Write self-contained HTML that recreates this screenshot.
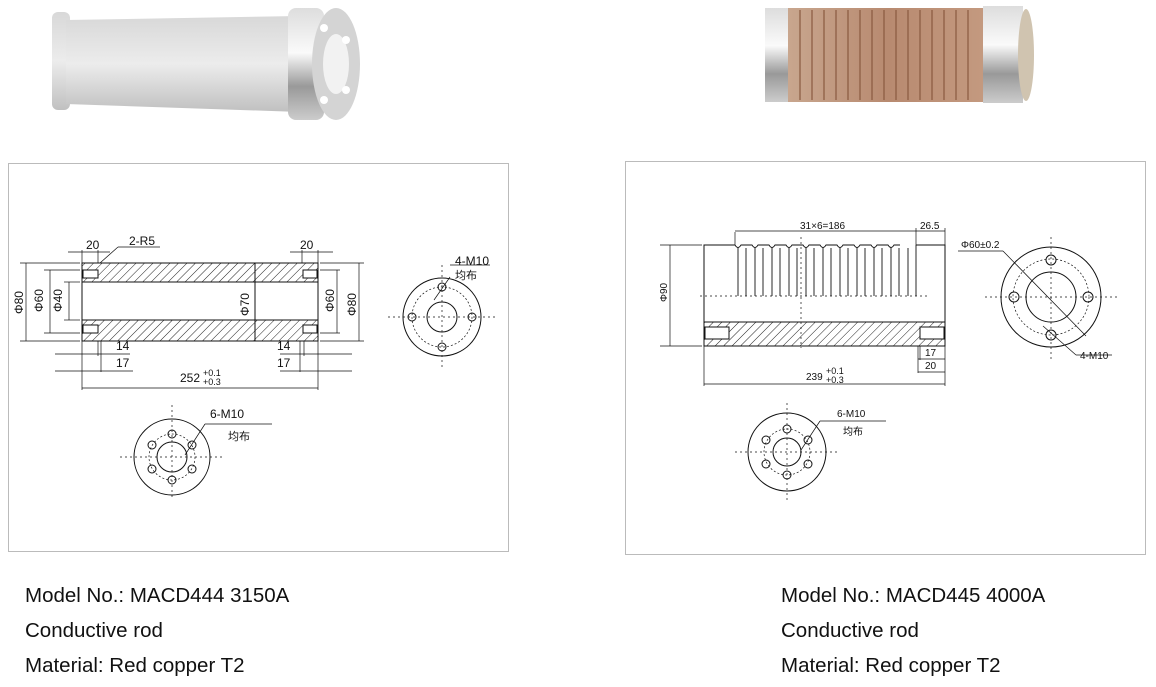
<!DOCTYPE html>
<html><head><meta charset="utf-8"><style>
html,body{margin:0;padding:0;background:#fff;width:1156px;height:687px;overflow:hidden}
svg{position:absolute;left:0;top:0}
.t{position:absolute;left:25px;font-family:"Liberation Sans",Arial,sans-serif;font-size:20.5px;color:#111}
</style></head><body>
<svg width="1156" height="687" viewBox="0 0 1156 687" font-family="Liberation Sans, Noto Sans CJK SC, sans-serif">
<defs>
<pattern id="h" width="6" height="6" patternUnits="userSpaceOnUse" patternTransform="rotate(45)"><line x1="0" y1="0" x2="0" y2="6" stroke="#222" stroke-width="1"/></pattern>
<linearGradient id="al" x1="0" y1="0" x2="0" y2="1"><stop offset="0" stop-color="#d8d8d8"/><stop offset="0.5" stop-color="#ececec"/><stop offset="1" stop-color="#c0c0c0"/></linearGradient>
<linearGradient id="cu" x1="0" y1="0" x2="1" y2="0"><stop offset="0" stop-color="#c8a68e"/><stop offset="0.5" stop-color="#b88a70"/><stop offset="1" stop-color="#c49a80"/></linearGradient>
<linearGradient id="st" x1="0" y1="0" x2="0" y2="1"><stop offset="0" stop-color="#ddd"/><stop offset="0.4" stop-color="#fafafa"/><stop offset="0.7" stop-color="#999"/><stop offset="1" stop-color="#ccc"/></linearGradient>
</defs>
<!-- photo left -->
<rect x="52" y="12" width="18" height="98" rx="6" fill="url(#al)"/>
<polygon points="66,20 300,16 300,112 66,104" fill="url(#al)"/>
<rect x="288" y="8" width="36" height="112" rx="8" fill="url(#st)"/>
<ellipse cx="336" cy="64" rx="24" ry="56" fill="#d4d4d4"/>
<ellipse cx="336" cy="64" rx="13" ry="30" fill="#f2f2f2"/>
<circle cx="324" cy="28" r="4" fill="#fff"/><circle cx="346" cy="40" r="4" fill="#fff"/><circle cx="324" cy="100" r="4" fill="#fff"/><circle cx="346" cy="90" r="4" fill="#fff"/>
<!-- photo right -->
<rect x="765" y="8" width="25" height="94" fill="url(#st)"/>
<rect x="788" y="8" width="200" height="94" fill="url(#cu)"/>
<g stroke="#8a5a40" stroke-width="2" opacity="0.6">
<line x1="800" y1="10" x2="800" y2="100"/><line x1="812" y1="10" x2="812" y2="100"/><line x1="824" y1="10" x2="824" y2="100"/><line x1="836" y1="10" x2="836" y2="100"/><line x1="848" y1="10" x2="848" y2="100"/><line x1="860" y1="10" x2="860" y2="100"/><line x1="872" y1="10" x2="872" y2="100"/><line x1="884" y1="10" x2="884" y2="100"/><line x1="896" y1="10" x2="896" y2="100"/><line x1="908" y1="10" x2="908" y2="100"/><line x1="920" y1="10" x2="920" y2="100"/><line x1="932" y1="10" x2="932" y2="100"/><line x1="944" y1="10" x2="944" y2="100"/><line x1="956" y1="10" x2="956" y2="100"/><line x1="968" y1="10" x2="968" y2="100"/></g>
<rect x="983" y="6" width="40" height="97" fill="url(#st)"/>
<ellipse cx="1026" cy="55" rx="8" ry="46" fill="#d0c4b0"/>

<!-- boxes -->
<rect x="8.5" y="163.5" width="500" height="388" fill="none" stroke="#bbb"/>
<rect x="625.5" y="161.5" width="520" height="393" fill="none" stroke="#bbb"/>

<g stroke="#111" stroke-width="1" fill="none">
<!-- LEFT ROD -->
<rect x="82" y="263" width="236" height="19" fill="url(#h)"/>
<rect x="82" y="320" width="236" height="21" fill="url(#h)"/>
<rect x="82" y="263" width="236" height="78"/>
<line x1="82" y1="282" x2="318" y2="282"/><line x1="82" y1="320" x2="318" y2="320"/>
<rect x="83" y="270" width="15" height="8" fill="#fff"/><rect x="83" y="325" width="15" height="8" fill="#fff"/>
<rect x="303" y="270" width="14" height="8" fill="#fff"/><rect x="303" y="325" width="14" height="8" fill="#fff"/>
<line x1="255" y1="263" x2="255" y2="341"/>
<g stroke-width="0.7">
<line x1="20" y1="263" x2="80" y2="263"/><line x1="20" y1="341" x2="80" y2="341"/><line x1="26" y1="263" x2="26" y2="341"/>
<line x1="44" y1="270" x2="80" y2="270"/><line x1="44" y1="333" x2="80" y2="333"/><line x1="50" y1="270" x2="50" y2="333"/>
<line x1="64" y1="282" x2="80" y2="282"/><line x1="64" y1="320" x2="80" y2="320"/><line x1="69" y1="282" x2="69" y2="320"/>
<line x1="320" y1="270" x2="340" y2="270"/><line x1="320" y1="333" x2="340" y2="333"/><line x1="337" y1="270" x2="337" y2="333"/>
<line x1="320" y1="263" x2="364" y2="263"/><line x1="320" y1="341" x2="364" y2="341"/><line x1="359" y1="263" x2="359" y2="341"/>
<line x1="68" y1="252" x2="110" y2="252"/><line x1="82" y1="250" x2="82" y2="263"/><line x1="98" y1="250" x2="98" y2="263"/>
<line x1="100" y1="263" x2="118" y2="247"/><line x1="118" y1="247" x2="160" y2="247"/>
<line x1="290" y1="252" x2="333" y2="252"/><line x1="302" y1="250" x2="302" y2="263"/><line x1="318" y1="250" x2="318" y2="263"/>
<line x1="82" y1="341" x2="82" y2="390"/><line x1="318" y1="341" x2="318" y2="390"/>
<line x1="98" y1="341" x2="98" y2="356"/><line x1="101" y1="341" x2="101" y2="372"/>
<line x1="55" y1="354" x2="130" y2="354"/><line x1="55" y1="371" x2="133" y2="371"/>
<line x1="300" y1="341" x2="300" y2="372"/><line x1="304" y1="341" x2="304" y2="356"/>
<line x1="280" y1="354" x2="352" y2="354"/><line x1="280" y1="371" x2="352" y2="371"/>
<line x1="82" y1="388" x2="318" y2="388"/>
</g>
<!-- left end view -->
<circle cx="442" cy="317" r="39"/><circle cx="442" cy="317" r="15"/>
<circle cx="442" cy="317" r="30" stroke-dasharray="2 2" stroke-width="0.7"/>
<circle cx="442" cy="287" r="4"/><circle cx="442" cy="347" r="4"/><circle cx="412" cy="317" r="4"/><circle cx="472" cy="317" r="4"/>
<g stroke-dasharray="2 3" stroke-width="0.7"><line x1="388" y1="317" x2="496" y2="317"/><line x1="442" y1="265" x2="442" y2="370"/></g>
<line x1="434" y1="300" x2="450" y2="277" stroke-width="0.7"/><line x1="450" y1="265" x2="490" y2="265" stroke-width="0.7"/>
<!-- bottom-left end view -->
<circle cx="172" cy="457" r="38"/><circle cx="172" cy="457" r="15"/>
<circle cx="172" cy="457" r="23" stroke-dasharray="2 2" stroke-width="0.7"/>
<circle cx="172" cy="434" r="4"/><circle cx="172" cy="480" r="4"/><circle cx="152" cy="445" r="4"/><circle cx="192" cy="445" r="4"/><circle cx="152" cy="469" r="4"/><circle cx="192" cy="469" r="4"/>
<g stroke-dasharray="2 3" stroke-width="0.7"><line x1="120" y1="457" x2="224" y2="457"/><line x1="172" y1="405" x2="172" y2="500"/></g>
<line x1="185" y1="455" x2="205" y2="424" stroke-width="0.7"/><line x1="205" y1="424" x2="272" y2="424" stroke-width="0.7"/>

<!-- RIGHT ROD -->
<rect x="704" y="322" width="241" height="24" fill="url(#h)"/>
<path d="M735,245 H704 V346 H945 V245 H916"/>
<line x1="704" y1="322" x2="945" y2="322"/>
<g stroke-width="0.9">
<path d="M735,245 q3,5 6,0 h11 q3,5 6,0 h11 q3,5 6,0 h11 q3,5 6,0 h11 q3,5 6,0 h11 q3,5 6,0 h11 q3,5 6,0 h11 q3,5 6,0 h11 q3,5 6,0 h11 q3,5 6,0 h6"/>
<line x1="738" y1="248" x2="738" y2="296"/><line x1="755" y1="248" x2="755" y2="296"/><line x1="772" y1="248" x2="772" y2="296"/><line x1="789" y1="248" x2="789" y2="296"/><line x1="806" y1="248" x2="806" y2="296"/><line x1="823" y1="248" x2="823" y2="296"/><line x1="840" y1="248" x2="840" y2="296"/><line x1="857" y1="248" x2="857" y2="296"/><line x1="874" y1="248" x2="874" y2="296"/><line x1="891" y1="248" x2="891" y2="296"/><line x1="908" y1="248" x2="908" y2="296"/>
<line x1="746" y1="248" x2="746" y2="296"/><line x1="763" y1="248" x2="763" y2="296"/><line x1="780" y1="248" x2="780" y2="296"/><line x1="797" y1="248" x2="797" y2="296"/><line x1="814" y1="248" x2="814" y2="296"/><line x1="831" y1="248" x2="831" y2="296"/><line x1="848" y1="248" x2="848" y2="296"/><line x1="865" y1="248" x2="865" y2="296"/><line x1="882" y1="248" x2="882" y2="296"/><line x1="899" y1="248" x2="899" y2="296"/>
<line x1="916" y1="245" x2="916" y2="296"/>
</g>
<rect x="705" y="327" width="24" height="12" fill="#fff"/><rect x="920" y="327" width="24" height="12" fill="#fff"/>
<g stroke-dasharray="2 3" stroke-width="0.7"><line x1="700" y1="296" x2="928" y2="296"/><line x1="801" y1="237" x2="801" y2="348"/></g>
<g stroke-width="0.7">
<line x1="660" y1="245" x2="702" y2="245"/><line x1="660" y1="346" x2="702" y2="346"/><line x1="670" y1="245" x2="670" y2="346"/>
<line x1="735" y1="232" x2="735" y2="245"/><line x1="916" y1="228" x2="916" y2="245"/><line x1="945" y1="228" x2="945" y2="245"/>
<line x1="735" y1="231" x2="945" y2="231"/>
<line x1="704" y1="346" x2="704" y2="386"/><line x1="945" y1="346" x2="945" y2="386"/>
<line x1="918" y1="346" x2="918" y2="373"/><line x1="920" y1="346" x2="920" y2="360"/>
<line x1="918" y1="359" x2="945" y2="359"/><line x1="918" y1="372" x2="945" y2="372"/>
<line x1="704" y1="384" x2="945" y2="384"/>
</g>
<!-- right end view -->
<circle cx="1051" cy="297" r="50"/><circle cx="1051" cy="297" r="25"/>
<circle cx="1051" cy="297" r="38" stroke-dasharray="2 2" stroke-width="0.7"/>
<circle cx="1051" cy="260" r="5"/><circle cx="1051" cy="335" r="5"/><circle cx="1014" cy="297" r="5"/><circle cx="1088" cy="297" r="5"/>
<g stroke-dasharray="2 3" stroke-width="0.7"><line x1="985" y1="297" x2="1120" y2="297"/><line x1="1051" y1="237" x2="1051" y2="362"/></g>
<g stroke-width="0.7"><line x1="958" y1="251" x2="1003" y2="251"/><line x1="1003" y1="251" x2="1086" y2="336"/>
<line x1="1043" y1="326" x2="1076" y2="355"/><line x1="1076" y1="355" x2="1112" y2="355"/></g>
<!-- bottom right end view -->
<circle cx="787" cy="452" r="39"/><circle cx="787" cy="452" r="14"/>
<circle cx="787" cy="452" r="23" stroke-dasharray="2 2" stroke-width="0.7"/>
<circle cx="787" cy="429" r="4"/><circle cx="787" cy="475" r="4"/><circle cx="766" cy="440" r="4"/><circle cx="808" cy="440" r="4"/><circle cx="766" cy="464" r="4"/><circle cx="808" cy="464" r="4"/>
<g stroke-dasharray="2 3" stroke-width="0.7"><line x1="735" y1="452" x2="840" y2="452"/><line x1="787" y1="403" x2="787" y2="503"/></g>
<line x1="801" y1="450" x2="820" y2="421" stroke-width="0.7"/><line x1="820" y1="421" x2="886" y2="421" stroke-width="0.7"/>
</g>

<g fill="#111" font-size="12">
<text x="86" y="249">20</text><text x="129" y="245">2-R5</text>
<text x="300" y="249">20</text>
<text x="455" y="265">4-M10</text><text x="455" y="279" font-size="11">均布</text>
<text x="116" y="350">14</text><text x="116" y="367">17</text>
<text x="277" y="350">14</text><text x="277" y="367">17</text>
<text x="180" y="382">252</text><text x="203" y="376" font-size="9">+0.1</text><text x="203" y="385" font-size="9">+0.3</text>
<text x="210" y="418">6-M10</text><text x="228" y="440" font-size="11">均布</text>
<text transform="translate(23,314) rotate(-90)">Φ80</text>
<text transform="translate(43,312) rotate(-90)">Φ60</text>
<text transform="translate(62,312) rotate(-90)">Φ40</text>
<text transform="translate(249,316) rotate(-90)">Φ70</text>
<text transform="translate(334,312) rotate(-90)">Φ60</text>
<text transform="translate(356,316) rotate(-90)">Φ80</text>
<g font-size="10">
<text x="800" y="229">31×6=186</text><text x="920" y="229">26.5</text>
<text transform="translate(667,302) rotate(-90)">Φ90</text>
<text x="961" y="248">Φ60±0.2</text>
<text x="1080" y="359">4-M10</text>
<text x="925" y="356">17</text><text x="925" y="369">20</text>
<text x="806" y="380">239</text><text x="826" y="374" font-size="9">+0.1</text><text x="826" y="383" font-size="9">+0.3</text>
<text x="837" y="417">6-M10</text><text x="843" y="435">均布</text>
</g>
</g>
</svg>
<div class="t" style="top:584px">Model No.: MACD444 3150A</div>
<div class="t" style="top:619px">Conductive rod</div>
<div class="t" style="top:654px">Material: Red copper T2</div>
<div class="t" style="top:584px;left:781px">Model No.: MACD445 4000A</div>
<div class="t" style="top:619px;left:781px">Conductive rod</div>
<div class="t" style="top:654px;left:781px">Material: Red copper T2</div>
</body></html>
